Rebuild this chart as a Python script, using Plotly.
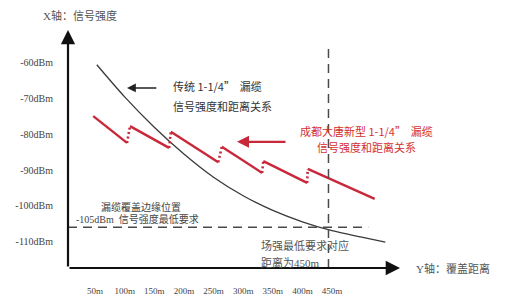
import plotly.graph_objects as go

# ---------------- data ----------------
# Traditional 1-1/4" leaky cable: distance (m) vs signal strength (dBm)
trad_dist_m = [53, 100, 150, 200, 250, 300, 350, 400, 450, 500, 540]
trad_dbm = [-60.5, -69.5, -78.0, -85.5, -92.0, -97.2, -101.3, -104.5, -107.0, -108.8, -110.2]

# New (Chengdu Datang) 1-1/4" leaky cable: sawtooth segments
seg_start_m = [47, 109, 178, 264, 334, 409]
seg_end_m = [104, 175, 258, 332, 408, 522]
seg_start_dbm = [-74.9, -77.7, -79.3, -83.5, -87.5, -89.7]
seg_end_dbm = [-82.4, -83.8, -87.8, -90.8, -93.6, -98.1]

# Thresholds
min_signal_dbm = -106
cutoff_distance_m = 444

# Axis ticks
y_tickvals = [-60, -70, -80, -90, -100, -110]
y_ticktext = ["-60dBm", "-70dBm", "-80dBm", "-90dBm", "-100dBm", "-110dBm"]
x_tickvals = [50, 100, 150, 200, 250, 300, 350, 400, 450]
x_ticktext = ["50m", "100m", "150m", "200m", "250m", "300m", "350m", "400m", "450m"]

# ---------------- layout geometry ----------------
W, H = 528, 304
ML, MR, MT, MB = 68, 128, 30, 36
X_RANGE = [4.4, 564.7]
Y_RANGE = [-117.45, -50.76]
PW, PH = W - ML - MR, H - MT - MB

def px_x(px):  # pixel -> paper x
    return (px - ML) / PW

def px_y(py):  # pixel -> paper y
    return (H - MB - py) / PH

RED = "#c8283a"
RED_TXT = "#d3302f"
CJK = "Noto Sans CJK SC"
SERIF = "Liberation Serif, Noto Sans CJK SC"

fig = go.Figure()

# traditional curve
fig.add_trace(go.Scatter(x=trad_dist_m, y=trad_dbm, mode="lines",
                         line=dict(color="#3a3a3a", width=1.3, shape="spline", smoothing=0.8),
                         hoverinfo="skip", showlegend=False))

# new cable sawtooth
for i in range(len(seg_start_m)):
    fig.add_trace(go.Scatter(x=[seg_start_m[i], seg_end_m[i]],
                             y=[seg_start_dbm[i], seg_end_dbm[i]], mode="lines",
                             line=dict(color=RED, width=2.4),
                             hoverinfo="skip", showlegend=False))
    if i + 1 < len(seg_start_m):
        fig.add_trace(go.Scatter(x=[seg_end_m[i], seg_start_m[i + 1]],
                                 y=[seg_end_dbm[i], seg_start_dbm[i + 1]], mode="lines",
                                 line=dict(color=RED, width=2.6, dash="2px,2.5px"),
                                 hoverinfo="skip", showlegend=False))

# dashed threshold lines
fig.add_shape(type="line", xref="x", yref="y", x0=X_RANGE[0], x1=511,
              y0=min_signal_dbm, y1=min_signal_dbm,
              line=dict(color="#4a4a4a", width=1.5, dash="9px,6px"))
fig.add_shape(type="line", xref="x", yref="y", x0=cutoff_distance_m, x1=cutoff_distance_m,
              y0=Y_RANGE[0], y1=-55.8,
              line=dict(color="#4a4a4a", width=1.5, dash="9px,6px"))

ann = []
# axis arrows
ann.append(dict(x=0, y=1, xref="paper", yref="paper", ax=0, ay=PH, axref="pixel", ayref="pixel",
                text="", showarrow=True, arrowhead=2, arrowsize=1.3, arrowwidth=2.2, arrowcolor="#111"))
ann.append(dict(x=1, y=0, xref="paper", yref="paper", ax=-PW, ay=0,
                text="", showarrow=True, arrowhead=2, arrowsize=1.3, arrowwidth=2.2, arrowcolor="#111"))
# pointer arrows
ann.append(dict(x=104, y=-67.0, xref="x", yref="y", ax=156, ay=-67.0, axref="x", ayref="y",
                text="", showarrow=True, arrowhead=2, arrowsize=1.1, arrowwidth=1.6, arrowcolor="#222"))
ann.append(dict(x=289.6, y=-82.1, xref="x", yref="y", ax=374, ay=-82.1, axref="x", ayref="y",
                text="", showarrow=True, arrowhead=2, arrowsize=1.0, arrowwidth=2.4, arrowcolor=RED))

def txt(s, px, py, size, color, family=CJK, anchor="left"):
    ann.append(dict(x=px_x(px), y=px_y(py), xref="paper", yref="paper", text=s, showarrow=False,
                    xanchor=anchor, yanchor="middle", font=dict(family=family, size=size, color=color)))

txt("X轴：信号强度", 80, 15, 11, "#555", family=SERIF, anchor="center")
txt("Y轴：覆盖距离", 414, 268, 11, "#555", family=SERIF)
txt("传统 1-1/4”  漏缆", 171, 86, 11, "#333")
txt("信号强度和距离关系", 171, 106, 11, "#333")
txt("成都大唐新型 1-1/4”  漏缆", 366, 131, 11, RED_TXT, anchor="center")
txt("信号强度和距离关系", 366, 147, 11, RED_TXT, anchor="center")
txt("漏缆覆盖边缘位置", 99, 207, 10, "#444", family=SERIF)
txt("-105dBm  信号强度最低要求", 74, 219, 10, "#444", family=SERIF)
txt("场强最低要求对应", 259, 245, 11, "#555", family=SERIF)
txt("距离为450m", 259, 262, 11, "#555", family=SERIF)

fig.update_layout(
    width=W, height=H, margin=dict(l=ML, r=MR, t=MT, b=MB),
    paper_bgcolor="white", plot_bgcolor="white",
    annotations=ann, showlegend=False,
    xaxis=dict(range=X_RANGE, showgrid=False, zeroline=False, showline=False, ticks="",
               tickvals=x_tickvals, ticktext=x_ticktext, ticklabelstandoff=16,
               tickfont=dict(family=SERIF, size=9, color="#444"), automargin=False, fixedrange=True),
    yaxis=dict(range=Y_RANGE, showgrid=False, zeroline=False, showline=False, ticks="",
               tickvals=y_tickvals, ticktext=y_ticktext, ticklabelstandoff=14,
               tickfont=dict(family=SERIF, size=10, color="#444"), automargin=False, fixedrange=True),
)

fig.write_html("out.html")
